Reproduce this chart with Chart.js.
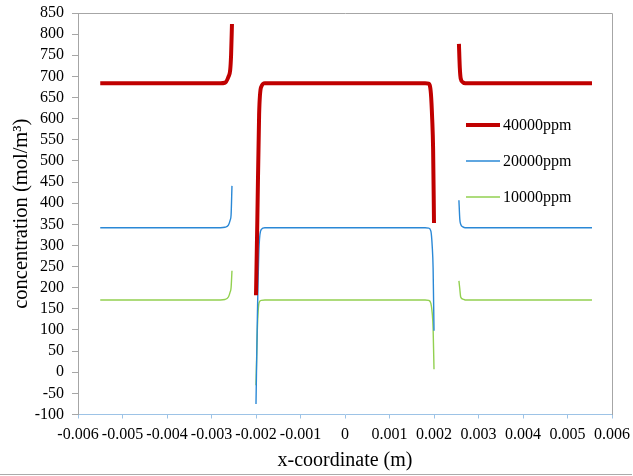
<!DOCTYPE html>
<html>
<head>
<meta charset="utf-8">
<script src="https://cdn.jsdelivr.net/npm/chart.js@4/dist/chart.umd.min.js"></script>
<style>
  html, body { margin: 0; padding: 0; background: #fff; }
  #wrap { width: 633px; height: 476px; position: relative; }
</style>
</head>
<body>
<div id="wrap"><canvas id="c" width="633" height="476"></canvas></div>
<script>
// Concentration profile across the domain for three inlet concentrations.
// Three separate regions (left, middle, right) with gaps between them.

const seriesLabels = ['40000ppm', '20000ppm', '10000ppm'];

// x positions (m) of each region
const xLeft  = [-0.0055, -0.0045, -0.0035, -0.0028, -0.0027, -0.00262, -0.00258, -0.00256, -0.00254];
const xMid   = [-0.002, -0.00197, -0.00193, -0.00188, -0.0018, -0.001, 0, 0.001, 0.0018, 0.00188, 0.00193, 0.00196, 0.00198, 0.002];
const xRight = [0.00256, 0.00258, 0.0026, 0.00265, 0.0027, 0.0035, 0.0045, 0.00555];

// 40000ppm (mol/m3)
const c40Left  = [684, 684, 684, 684, 685, 699, 715, 750, 824];
const c40Mid   = [182, 360, 610, 676, 684, 684, 684, 684, 684, 683, 660, 598, 528, 353];
const c40Right = [777, 720, 695, 686, 684, 684, 684, 684];

// 20000ppm (mol/m3)
const c20Left  = [342, 342, 342, 342, 343, 348, 360, 372, 441];
const c20Mid   = [-75, 126, 300, 338, 342, 342, 342, 342, 342, 341, 334, 298, 246, 98];
const c20Right = [407, 362, 350, 344, 342, 342, 342, 342];

// 10000ppm (mol/m3)
const c10Left  = [171, 171, 171, 171, 172, 178, 190, 200, 240];
const c10Mid   = [-31, 100, 165, 170, 171, 171, 171, 171, 171, 170, 163, 140, 104, 7];
const c10Right = [216, 197, 178, 173, 171, 171, 171, 171];

const xTickLabels = ['-0.006', '-0.005', '-0.004', '-0.003', '-0.002', '-0.001', '0',
                     '0.001', '0.002', '0.003', '0.004', '0.005', '0.006'];

const lineColors = ['#C00000', '#2A88D6', '#92D050'];
const lineWidths = [4, 1.4, 1.4];

function buildPoints(left, mid, right) {
  const pts = [];
  xLeft.forEach((x, i) => pts.push({ x, y: left[i] }));
  pts.push({ x: -0.0023, y: null });
  xMid.forEach((x, i) => pts.push({ x, y: mid[i] }));
  pts.push({ x: 0.0023, y: null });
  xRight.forEach((x, i) => pts.push({ x, y: right[i] }));
  return pts;
}

const seriesData = [
  buildPoints(c40Left, c40Mid, c40Right),
  buildPoints(c20Left, c20Mid, c20Right),
  buildPoints(c10Left, c10Mid, c10Right)
];

const SERIF = '"Liberation Serif", "Times New Roman", serif';

// plot frame (top/right edges), outer bottom rule and the in-plot legend
const framePlugin = {
  id: 'frameAndLegend',
  beforeDatasetsDraw(chart) {
    const { ctx, chartArea: a } = chart;
    ctx.save();
    ctx.strokeStyle = '#A6A6A6';
    ctx.lineWidth = 1;
    ctx.beginPath();
    ctx.moveTo(Math.round(a.left) + 0.5, Math.round(a.top) + 0.5);
    ctx.lineTo(Math.round(a.right) + 0.5, Math.round(a.top) + 0.5);
    ctx.lineTo(Math.round(a.right) + 0.5, Math.round(a.bottom));
    ctx.stroke();
    ctx.strokeStyle = '#ABABAB';
    ctx.beginPath();
    ctx.moveTo(0, 474.5);
    ctx.lineTo(chart.width - 1, 474.5);
    ctx.stroke();
    ctx.restore();
  },
  afterDatasetsDraw(chart) {
    const { ctx } = chart;
    const rows = [125, 161, 197];
    ctx.save();
    ctx.font = '16px ' + SERIF;
    ctx.textBaseline = 'middle';
    ctx.textAlign = 'left';
    chart.data.datasets.forEach((ds, i) => {
      const y = rows[i];
      ctx.strokeStyle = ds.borderColor;
      ctx.lineWidth = ds.borderWidth;
      ctx.beginPath();
      ctx.moveTo(466, y);
      ctx.lineTo(500, y);
      ctx.stroke();
      ctx.fillStyle = '#000';
      ctx.fillText(ds.label, 503, y + 1);
    });
    ctx.restore();
  }
};

new Chart(document.getElementById('c'), {
  type: 'line',
  data: {
    datasets: seriesData.map((pts, i) => ({
      label: seriesLabels[i],
      data: pts,
      borderColor: lineColors[i],
      backgroundColor: lineColors[i],
      borderWidth: lineWidths[i],
      pointRadius: 0,
      cubicInterpolationMode: 'monotone',
      spanGaps: false,
      fill: false
    }))
  },
  options: {
    responsive: false,
    animation: false,
    devicePixelRatio: 1,
    layout: { padding: { left: 0, right: 21, top: 13, bottom: 0 } },
    plugins: { legend: { display: false }, tooltip: { enabled: false } },
    scales: {
      x: {
        type: 'linear',
        min: -0.006,
        max: 0.006,
        afterFit(scale) {
          scale.height = 61.5;
          scale.paddingLeft = 0;
          scale.paddingRight = 0;
        },
        ticks: {
          stepSize: 0.001,
          autoSkip: false,
          maxRotation: 0,
          minRotation: 0,
          padding: 7,
          color: '#000',
          font: { family: SERIF, size: 16 },
          callback: (v, i) => xTickLabels[i]
        },
        grid: { drawOnChartArea: false, drawTicks: true, tickLength: 4, color: '#9DC3E6' },
        border: { color: '#9DC3E6', width: 1 },
        title: {
          display: true,
          text: 'x-coordinate (m)',
          color: '#000',
          font: { family: SERIF, size: 20 },
          padding: { top: 0, bottom: 3 }
        }
      },
      y: {
        type: 'linear',
        min: -100,
        max: 850,
        afterFit(scale) {
          scale.width = 78;
          scale.paddingTop = 0;
          scale.paddingBottom = 0;
        },
        ticks: {
          stepSize: 50,
          autoSkip: false,
          padding: 8,
          color: '#000',
          font: { family: SERIF, size: 16 }
        },
        grid: { drawOnChartArea: false, drawTicks: true, tickLength: 6, color: '#A6A6A6' },
        border: { color: '#A6A6A6', width: 1 },
        title: {
          display: true,
          text: 'concentration (mol/m³)',
          color: '#000',
          font: { family: SERIF, size: 20.5 },
          padding: { top: 9, bottom: 0 }
        }
      }
    }
  },
  plugins: [framePlugin]
});
</script>
</body>
</html>
